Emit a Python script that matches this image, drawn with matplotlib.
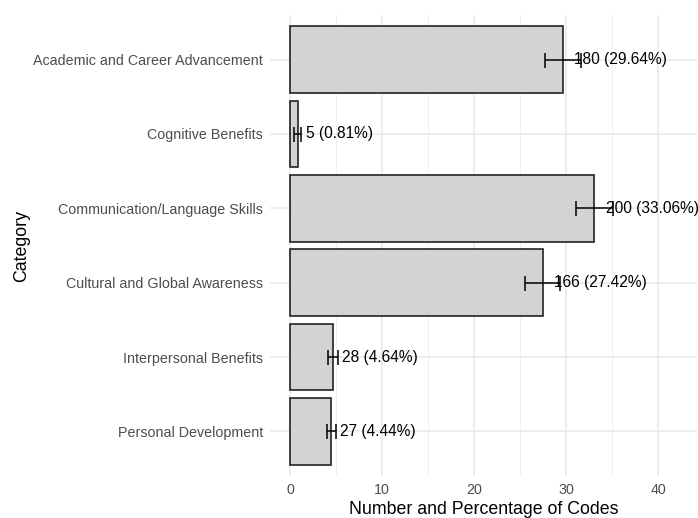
import matplotlib
matplotlib.use("Agg")
import matplotlib.pyplot as plt
from matplotlib.ticker import MultipleLocator

# Code categories, counts, share of all codes (%) and error half-widths (%)
categories = [
    "Academic and Career Advancement",
    "Cognitive Benefits",
    "Communication/Language Skills",
    "Cultural and Global Awareness",
    "Interpersonal Benefits",
    "Personal Development",
]
counts = [180, 5, 200, 166, 28, 27]
percentages = [29.64, 0.81, 33.06, 27.42, 4.64, 4.44]
errors = [2.0, 0.4, 2.05, 1.9, 0.55, 0.5]

plt.rcParams["font.family"] = ["Liberation Sans", "DejaVu Sans"]

W, H = 698, 518
fig = plt.figure(figsize=(W / 100, H / 100), dpi=100)
ax = fig.add_axes([270 / W, (H - 476) / H, (697 - 270) / W, (476 - 15) / H])

ypos = list(range(len(categories)))
ax.barh(ypos, percentages, height=0.9, color="#d3d3d3", edgecolor="#222222",
        linewidth=1.2, zorder=2)
ax.errorbar(percentages, ypos, xerr=errors, fmt="none", ecolor="black",
            elinewidth=1.1, capsize=5.4, capthick=1.1, zorder=3)

labels = []
for y, n, p in zip(ypos, counts, percentages):
    t = ax.annotate(f"{n} ({p:.2f}%)", xy=(p, y), xytext=(0, 0),
                    textcoords="offset points", ha="left", va="center",
                    fontsize=11.2, color="black", zorder=4)
    labels.append(t)

ax.set_xlim(-2.2, 44.2)
ax.set_ylim(len(categories) - 0.4, -0.6)
ax.set_yticks(ypos)
ax.set_yticklabels(categories)
ax.xaxis.set_major_locator(MultipleLocator(10))
ax.xaxis.set_minor_locator(MultipleLocator(5))

ax.grid(True, which="major", color="#e8e8e8", linewidth=1.1, zorder=0)
ax.grid(True, which="minor", axis="x", color="#f0f0f0", linewidth=0.7, zorder=0)
ax.set_axisbelow(True)
for s in ax.spines.values():
    s.set_visible(False)
ax.tick_params(axis="both", which="both", length=0, labelsize=10.3,
               labelcolor="#4d4d4d")
ax.tick_params(axis="y", pad=5)
ax.tick_params(axis="x", pad=5)

ax.set_xlabel("Number and Percentage of Codes", fontsize=12.8, color="black",
              labelpad=3)
ax.set_ylabel("Category", fontsize=12.8, color="black", labelpad=2)

# Nudge each value label to the right by a fraction of its own width
fig.canvas.draw()
renderer = fig.canvas.get_renderer()
for t in labels:
    w_px = t.get_window_extent(renderer).width
    t.set_position((0.12 * w_px * 72 / 100, 0))

fig.savefig("out.png", dpi=100, facecolor="white")
